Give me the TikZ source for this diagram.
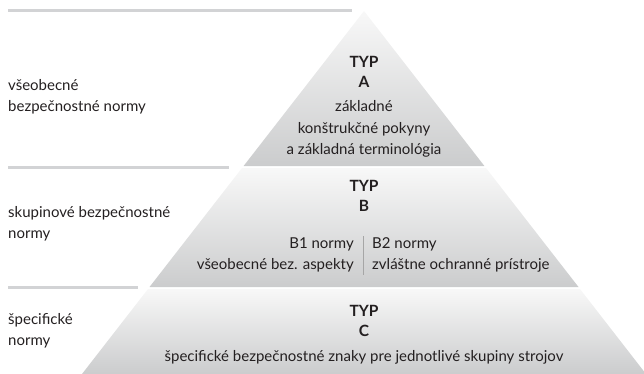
\documentclass[tikz,border=0pt]{standalone}
\usepackage{fontspec}
\setmainfont{Lato}
\definecolor{txt}{HTML}{231F20}
\definecolor{rule}{HTML}{D2D3D5}
\definecolor{tiertop}{HTML}{F8F8F8}
\definecolor{tierbot}{HTML}{CBCCCD}
\begin{document}
\begin{tikzpicture}[x=1pt,y=-1pt,
  tier/.style={top color=tiertop,bottom color=tierbot,draw=none},
  hrule/.style={draw=rule,line width=3pt},
  lbl/.style={anchor=west,inner sep=0pt,text=txt,font=\fontsize{15}{21.5}\selectfont,align=left},
  ttl/.style={inner sep=0pt,text=txt,font=\fontsize{15.5}{20}\selectfont\bfseries,align=center},
  body/.style={inner sep=0pt,text=txt,font=\fontsize{15}{21.5}\selectfont,align=center},
  divider/.style={draw=gray!70,line width=0.6pt}]
\useasboundingbox (0,0) rectangle (644,373);
\begin{scope}
\clip (0,0) rectangle (644,373);
\shade[tier] (364,11) -- (484.4,166) -- (243.6,166) -- cycle;
\shade[tier] (242,168) -- (486,168) -- (578.5,287) -- (149.5,287) -- cycle;
\shade[tier] (148,289) -- (580,289) -- (646,374) -- (82,374) -- cycle;
\end{scope}
% horizontal rules
\coordinate (r1a) at (8,10); \coordinate (r1b) at (352,10);
\coordinate (r2a) at (8,167); \coordinate (r2b) at (229,167);
\coordinate (r3a) at (8,287); \coordinate (r3b) at (138,287);
\draw[hrule] (r1a) -- (r1b);
\draw[hrule] (r2a) -- (r2b);
\draw[hrule] (r3a) -- (r3b);
% left labels
\node[lbl] (la) at (8,97) {všeobecné\\bezpečnostné normy};
\node[lbl] (lb) at (8,224) {skupinové bezpečnostné\\normy};
\node[lbl] (lc) at (8,331) {špecifické\\normy};
% type A
\node[ttl] (ta) at (364,72) {TYP\\A};
\node[body] (ba) at (364,129) {základné\\konštrukčné pokyny\\a základná terminológia};
% type B
\node[ttl] (tb) at (364,196) {TYP\\B};
\node[body,anchor=east,align=right] (b1) at (354,255) {B1 normy\\všeobecné bez. aspekty};
\node[body,anchor=west,align=left] (b2) at (372,255) {B2 normy\\zvláštne ochranné prístroje};
\coordinate (dvt) at (363,236);
\coordinate (dvb) at (363,275);
\draw[divider] (dvt) -- (dvb);
% type C
\node[ttl] (tc) at (364,321) {TYP\\C};
\node[body] (bc) at (364,357) {špecifické bezpečnostné znaky pre jednotlivé skupiny strojov};
\end{tikzpicture}
\end{document}
